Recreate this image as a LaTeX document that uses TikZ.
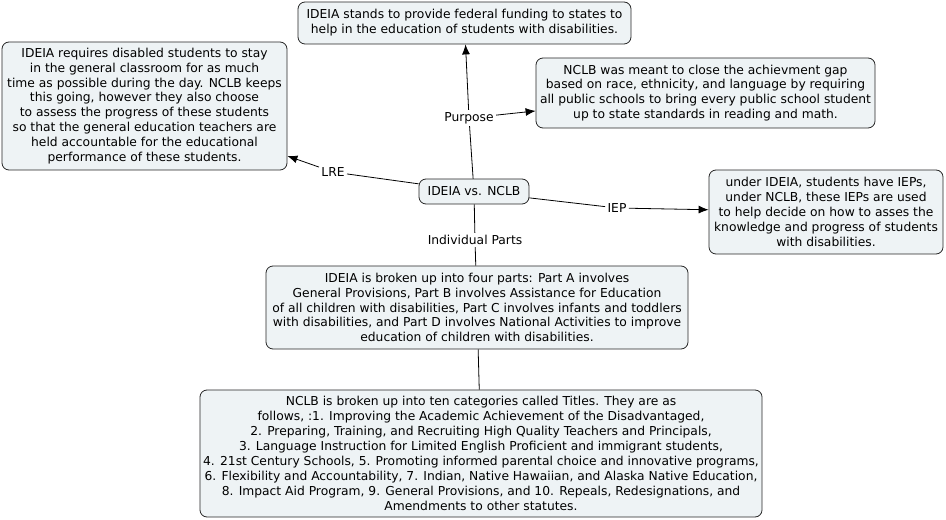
\documentclass[tikz,border=0pt]{standalone}
\usepackage{fontspec}
\setmainfont{DejaVu Sans}
\usepackage{tikz}
\usetikzlibrary{arrows,arrows.meta,positioning,shapes}
\definecolor{conceptfill}{RGB}{238,243,245}
\tikzset{
  concept/.style={draw=black!85,fill=conceptfill,rounded corners=7bp,line width=0.8bp,
    align=center,inner sep=0pt,font=\fontsize{12.3bp}{14.9bp}\selectfont},
  linkword/.style={inner sep=2bp,font=\fontsize{12.3bp}{14bp}\selectfont},
}
\begin{document}
\begin{tikzpicture}[x=1bp,y=-1bp,>={Latex[length=10bp,width=8bp]},line join=bevel]
  \pgfsetlinewidth{0.8bp}
  \useasboundingbox (0,0) rectangle (946,520);
%%
  % Node: main
  \node[concept,minimum width=110bp,minimum height=25bp] (main) at (474,191.5) {IDEIA vs. NCLB};
  % Node: purposeI
  \node[concept,minimum width=333bp,minimum height=42bp] (purposeI) at (464.5,23)
    {IDEIA stands to provide federal funding to states to\\
     help in the education of students with disabilities.};
  % Node: lreBox
  \node[concept,minimum width=285bp,minimum height=128bp] (lreBox) at (144.5,106)
    {IDEIA requires disabled students to stay\\
     in the general classroom for as much\\
     time as possible during the day. NCLB keeps\\
     this going, however they also choose\\
     to assess the progress of these students\\
     so that the general education teachers are\\
     held accountable for the educational\\
     performance of these students.};
  % Node: purposeN
  \node[concept,minimum width=339bp,minimum height=70bp] (purposeN) at (705.5,93)
    {NCLB was meant to close the achievment gap\\
     based on race, ethnicity, and language by requiring\\
     all public schools to bring every public school student\\
     up to state standards in reading and math.};
  % Node: iepBox
  \node[concept,minimum width=234bp,minimum height=84bp] (iepBox) at (826,212)
    {under IDEIA, students have IEPs,\\
     under NCLB, these IEPs are used\\
     to help decide on how to asses the\\
     knowledge and progress of students\\
     with disabilities.};
  % Node: partsI
  \node[concept,minimum width=422bp,minimum height=83bp] (partsI) at (477,307.5)
    {IDEIA is broken up into four parts: Part A involves\\
     General Provisions, Part B involves Assistance for Education\\
     of all children with disabilities, Part C involves infants and toddlers\\
     with disabilities, and Part D involves National Activities to improve\\
     education of children with disabilities.};
  % Node: titlesN
  \node[concept,minimum width=562bp,minimum height=127bp] (titlesN) at (481,453.5)
    {NCLB is broken up into ten categories called Titles. They are as\\
     follows, :1. Improving the Academic Achievement of the Disadvantaged,\\
     2. Preparing, Training, and Recruiting High Quality Teachers and Principals,\\
     3. Language Instruction for Limited English Proficient and immigrant students,\\
     4. 21st Century Schools, 5. Promoting informed parental choice and innovative programs,\\
     6. Flexibility and Accountability, 7. Indian, Native Hawaiian, and Alaska Native Education,\\
     8. Impact Aid Program, 9. General Provisions, and 10. Repeals, Redesignations, and\\
     Amendments to other statutes.};
  % Linking phrases
  \node[linkword] (purposeL) at (469,118) {Purpose};
  \node[linkword] (lreL) at (333,172) {LRE};
  \node[linkword] (iepL) at (617,208) {IEP};
  \node[linkword] (partsL) at (475,240) {Individual Parts};
%%
  % Edge: main -> Purpose
  \draw (main) -- (purposeL);
  \draw[->] (purposeL) -- (purposeI);
  \draw[->] (purposeL) -- (purposeN);
  % Edge: main -> LRE
  \draw (main) -- (lreL);
  \draw[->] (lreL) -- (lreBox);
  % Edge: main -> IEP
  \draw (main) -- (iepL);
  \draw[->] (iepL) -- (iepBox);
  % Edge: main -> Individual Parts
  \draw (main) -- (partsL);
  \draw (partsL) -- (partsI);
  \draw (partsI) -- (titlesN);
%
\end{tikzpicture}
\end{document}
